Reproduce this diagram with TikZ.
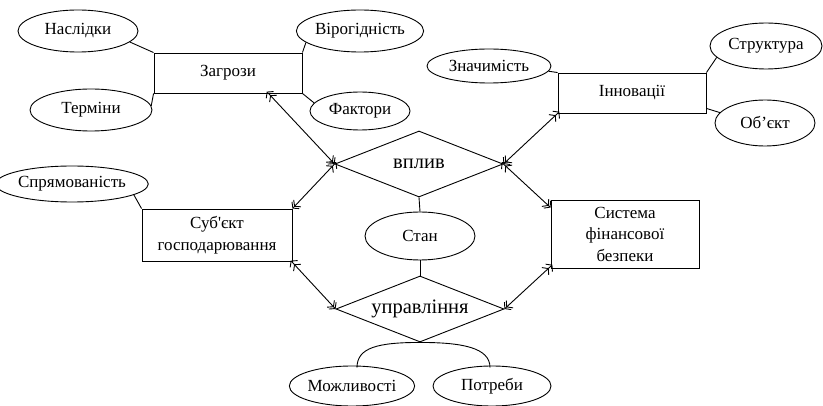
\documentclass[tikz,border=0pt]{standalone}
\usepackage{fontspec}
\setmainfont{Liberation Serif}
\newfontfamily\tnr{Liberation Serif}
\usetikzlibrary{shapes.geometric,arrows.meta,calc}
\tikzset{
  base/.style={line width=0.9pt},
  box/.style={base,draw,rectangle,inner sep=0pt,align=center,font=\tnr\fontsize{17}{21.5}\selectfont},
  ell/.style={base,draw,ellipse,inner sep=0pt,align=center,font=\tnr\fontsize{17}{21.5}\selectfont},
  dia/.style={base,draw,diamond,aspect=2.55,inner sep=0pt,minimum width=168pt,minimum height=66pt,font=\tnr\fontsize{20.5}{23}\selectfont},
  link/.style={base},
  arr/.style={base,{Straight Barb[length=4pt,width=10pt,sep=-2.5pt]Straight Barb[length=4pt,width=10pt]}-{Straight Barb[length=4pt,width=10pt,sep=-2.5pt]Straight Barb[length=4pt,width=10pt]}}
}
\begin{document}
\begin{tikzpicture}[x=1pt,y=-1pt]
\useasboundingbox (0,0) rectangle (823,406);
% rectangles
\node[box,minimum width=148pt,minimum height=40pt] (z) at (228,73) {Загрози};
\node[box,minimum width=148pt,minimum height=40pt] (inn) at (632,93) {Інновації};
\node[box,minimum width=150pt,minimum height=52pt] (sub) at (217,235) {Суб\textquotesingle єкт\\господарювання};
\node[box,minimum width=148pt,minimum height=68pt] (sys) at (625,234) {Система\\фінансової\\безпеки};
% ellipses
\node[ell,minimum width=120pt,minimum height=42pt] (nas) at (78,31) {Наслідки};
\node[ell,minimum width=122pt,minimum height=42pt] (ter) at (91,110) {Терміни};
\node[ell,minimum width=116pt,minimum height=42pt] (vir) at (360,31) {Вірогідність};
\node[ell,minimum width=100pt,minimum height=38pt] (fak) at (360,111) {Фактори};
\node[ell,minimum width=124pt,minimum height=34pt] (zn) at (489,66) {Значимість};
\node[ell,minimum width=112pt,minimum height=46pt] (str) at (766,46) {Структура};
\node[ell,minimum width=100pt,minimum height=46pt] (ob) at (765,123) {Об’єкт};
\node[ell,minimum width=130pt,minimum height=36pt] (spr) at (72,184) {Спрямованість};
\node[ell,minimum width=110pt,minimum height=48pt] (stan) at (420,236) {Стан};
\node[ell,minimum width=118pt,minimum height=40pt] (moz) at (352,386) {Можливості};
\node[ell,minimum width=118pt,minimum height=40pt] (pot) at (492,386) {Потреби};
% diamonds
\node[dia] (vpl) at (419,164) {вплив};
\node[dia] (upr) at (420,309) {управління};
% plain links
\draw[link] (nas.348) -- (z.north west);
\draw[link] (ter.4) -- (z.south west);
\draw[link] (vir.192) -- (z.north east);
\draw[link] (fak.170) -- (z.south east);
\draw[link] (zn.355) -- (inn.north west);
\draw[link] (str.193) -- (inn.north east);
\draw[link] (ob.167) -- ([yshift=5pt]inn.south east);
\draw[link] (spr.350) -- (sub.north west);
\draw[link] (vpl.south) -- (stan.north);
\draw[link] (stan.south) -- (upr.north);
\coordinate (mt) at ($(moz.north)+(5,2)$);
\coordinate (pt) at ($(pot.north)+(-2,2)$);
\draw[link] (mt) .. controls ($(mt)+(0,-20)$) and ($(upr.south)+(-42,0)$) .. (upr.south)
            .. controls ($(upr.south)+(42,0)$) and ($(pt)+(0,-20)$) .. (pt);
% arrows
\draw[arr] ([xshift=-34pt]z.south east) -- (vpl.west);
\draw[arr] (inn.south west) -- (vpl.east);
\draw[arr] (vpl.west) -- (sub.north east);
\draw[arr] (vpl.east) -- ([yshift=-8pt]sys.north west);
\draw[arr] ([yshift=-1pt]sub.south east) -- (upr.west);
\draw[arr] ([yshift=2pt]sys.south west) -- (upr.east);
\end{tikzpicture}
\end{document}
